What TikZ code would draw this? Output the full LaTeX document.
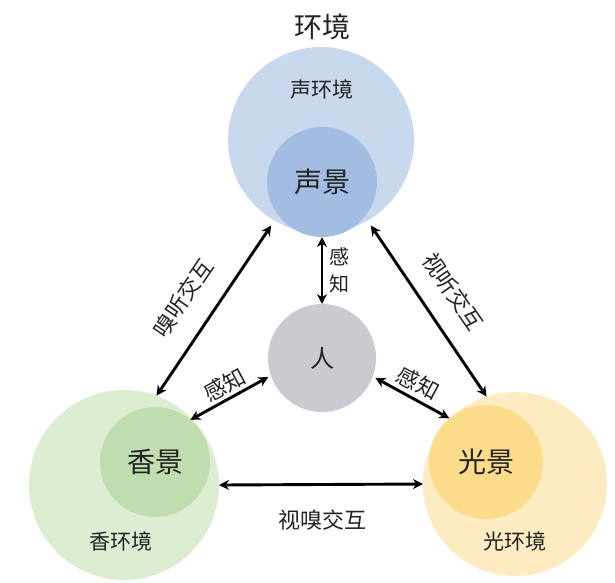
\documentclass[tikz,border=0pt]{standalone}
\usepackage{fontspec}
\setmainfont{Noto Sans CJK SC}
\usetikzlibrary{arrows.meta}
\definecolor{blueOut}{HTML}{C8D9EE}
\definecolor{blueIn}{HTML}{A3BDE2}
\definecolor{greenOut}{HTML}{DDEDD2}
\definecolor{greenIn}{HTML}{BFDDAE}
\definecolor{yellowOut}{HTML}{FDEBC1}
\definecolor{yellowIn}{HTML}{FCDC8B}
\definecolor{grayC}{HTML}{C9CBD0}
\definecolor{txt}{HTML}{222222}
\begin{document}
\begin{tikzpicture}[x=1pt,y=-1pt,
  disc/.style={circle,inner sep=0pt,outer sep=0pt,text=txt},
  big/.style={font=\fontsize{28}{30}\selectfont,text=txt},
  mid/.style={font=\fontsize{21}{23}\selectfont,text=txt},
  lab/.style={font=\fontsize{22}{24}\selectfont,text=txt,inner sep=0pt},
  link/.style={line width=2.9pt,{Stealth[length=10pt,width=10pt]}-{Stealth[length=10pt,width=10pt]}}]
\useasboundingbox (0,0) rectangle (615,582);
% outer environment circles
\node[disc,fill=blueOut,minimum size=186pt] (envS) at (321,140) {};
\node[disc,fill=greenOut,minimum size=190pt] (envX) at (124,485) {};
\node[disc,fill=yellowOut,minimum size=184pt] (envG) at (515,484) {};
% inner scape circles
\node[disc,fill=blueIn,minimum size=110pt,big] (sS) at (322,182) {声景};
\node[disc,fill=greenIn,minimum size=110pt,big] (sX) at (155,462) {香景};
\node[disc,fill=yellowIn,minimum size=114pt,big] (sG) at (486,462) {光景};
% person
\node[disc,fill=grayC,minimum size=108pt,font=\fontsize{24}{26}\selectfont] (ren) at (322,358) {人};
% texts
\node[big] (title) at (322,27) {环境};
\node[mid] (tS) at (322,90) {声环境};
\node[mid] (tX) at (121,541) {香环境};
\node[mid] (tG) at (515,541) {光环境};
% connectors
\draw[link] (sS.south) -- (ren.north);
\draw[link,shorten <=6pt] (envS.240) -- (envX.70);
\draw[link,shorten <=6pt] (envS.300) -- (envG.108);
\draw[link,shorten <=3pt] (ren.199) -- (sX.50);
\draw[link,shorten <=3pt] (ren.340) -- (sG.130);
\draw[link] (envX.east) -- (envG.west);
% connector labels
\node[lab,align=center,font=\fontsize{20}{27}\selectfont] (lV) at (339,270) {感\\知};
\node[lab,rotate=55.6] (lXS) at (183,298) {嗅听交互};
\node[lab,rotate=-55.3] (lSG) at (453,292) {视听交互};
\node[lab,rotate=28] (lL) at (225,385) {感知};
\node[lab,rotate=-28] (lR) at (418,383) {感知};
\node[lab] (lH) at (322,520) {视嗅交互};
\end{tikzpicture}
\end{document}
